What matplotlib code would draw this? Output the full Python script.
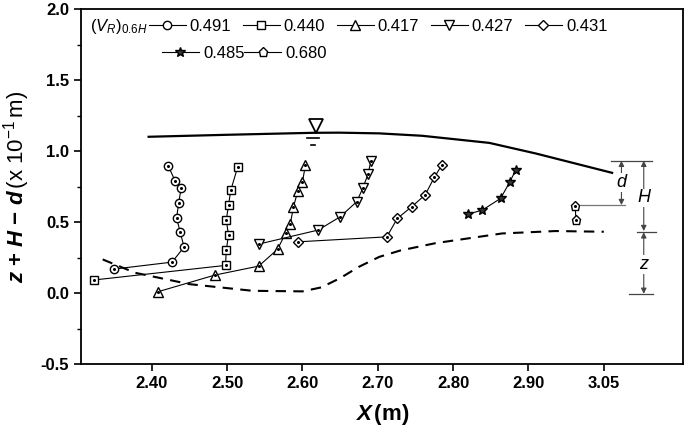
import numpy as np
import matplotlib.pyplot as plt

plt.rcParams['font.family'] = ['Liberation Sans Narrow', 'Liberation Sans', 'DejaVu Sans']
plt.rcParams['mathtext.fontset'] = 'custom'
plt.rcParams['mathtext.rm'] = 'Liberation Sans'
plt.rcParams['mathtext.it'] = 'Liberation Sans:italic'
plt.rcParams['mathtext.bf'] = 'Liberation Sans:bold'
plt.rcParams['mathtext.bfit'] = 'Liberation Sans:italic:bold'

# velocity profiles, (V_R)_0.6H label, x (m) and z+H-d (x 10^-1 m)
labels = ["0.491", "0.440", "0.417", "0.427", "0.431", "0.485", "0.680"]
markers = ["o", "s", "^", "v", "D", "*", "p"]

x_491 = [2.422, 2.431, 2.439, 2.436, 2.433, 2.438, 2.443, 2.427, 2.350]
y_491 = [0.896, 0.791, 0.739, 0.636, 0.530, 0.427, 0.324, 0.218, 0.169]

x_440 = [2.514, 2.505, 2.502, 2.499, 2.502, 2.499, 2.498, 2.323]
y_440 = [0.885, 0.725, 0.620, 0.514, 0.408, 0.303, 0.195, 0.092]

x_417 = [2.604, 2.600, 2.594, 2.588, 2.584, 2.578, 2.567, 2.542, 2.484, 2.408]
y_417 = [0.901, 0.780, 0.720, 0.604, 0.486, 0.425, 0.308, 0.190, 0.127, 0.009]

x_427 = [2.691, 2.687, 2.680, 2.672, 2.650, 2.621, 2.542]
y_427 = [0.932, 0.836, 0.737, 0.643, 0.537, 0.444, 0.345]

x_431 = [2.785, 2.775, 2.763, 2.745, 2.726, 2.712, 2.594]
y_431 = [0.901, 0.815, 0.692, 0.608, 0.526, 0.396, 0.361]

x_485 = [2.883, 2.875, 2.863, 2.839, 2.820]
y_485 = [0.866, 0.780, 0.667, 0.585, 0.556]

x_680 = [2.962, 2.963]
y_680 = [0.615, 0.514]

surf_x = [2.396, 2.500, 2.614, 2.649, 2.702, 2.759, 2.848, 2.910, 3.011]
surf_y = [1.101, 1.115, 1.129, 1.130, 1.125, 1.108, 1.058, 0.983, 0.847]

bed_x = [2.335, 2.378, 2.450, 2.534, 2.600, 2.625, 2.650, 2.675, 2.702, 2.730,
         2.777, 2.865, 2.936, 3.000]
bed_y = [0.237, 0.143, 0.063, 0.016, 0.012, 0.040, 0.105, 0.185, 0.255, 0.300,
         0.352, 0.420, 0.437, 0.432]

xticks = [2.4, 2.5, 2.6, 2.7, 2.8, 2.9, 3.0]
xticklabels = ["2.40", "2.50", "2.60", "2.70", "2.80", "2.90", "3.05"]
yticks = [-0.5, 0.0, 0.5, 1.0, 1.5, 2.0]

series = [(x_491, y_491), (x_440, y_440), (x_417, y_417), (x_427, y_427),
          (x_431, y_431), (x_485, y_485), (x_680, y_680)]
sizes = [6, 5.5, 7, 7, 5.5, 7.5, 6.5]

fig = plt.figure(figsize=(6.85, 4.36), dpi=100)
ax = fig.add_axes([0.118, 0.165, 0.879, 0.814])

handles = []
for (xs, ys), m, s, lab in zip(series, markers, sizes, labels):
    face = '#333333' if m == '*' else 'white'
    h, = ax.plot(xs, ys, '-', color='k', lw=0.8, marker=m, ms=s,
                 mfc=face, mec='k', mew=1.0, label=lab)
    if m != '*':
        ax.plot(xs, ys, 'o', ms=1.2, color='k', ls='none')
    handles.append(h)

ax.plot(surf_x, surf_y, '-', color='k', lw=1.6)
ax.plot(bed_x, bed_y, '--', color='k', lw=1.5, dashes=(5, 3.5))

# water level symbol
ax.plot([2.6179], [1.18], marker='v', ms=10, mfc='white', mec='k', mew=1.3)
ax.plot([2.606, 2.622], [1.090, 1.090], color='k', lw=1.2)
ax.plot([2.611, 2.617], [1.045, 1.045], color='k', lw=1.2)

# dimension lines for d, H, z
dim = '#444444'
ax.plot([3.010, 3.064], [0.932, 0.932], color=dim, lw=0.9)
ax.plot([2.969, 3.028], [0.620, 0.620], color='#777777', lw=0.9)
ax.plot([3.044, 3.069], [0.432, 0.432], color=dim, lw=0.9)
ax.plot([3.033, 3.065], [-0.005, -0.005], color=dim, lw=0.9)
arr = dict(arrowstyle='<|-|>', color=dim, lw=0.8, mutation_scale=8,
           shrinkA=0, shrinkB=0)
ax.annotate('', xy=(3.0234, 0.932), xytext=(3.0234, 0.620), arrowprops=arr)
ax.annotate('', xy=(3.053, 0.932), xytext=(3.053, 0.437), arrowprops=arr)
ax.annotate('', xy=(3.053, 0.428), xytext=(3.053, -0.005), arrowprops=arr)
box = dict(facecolor='white', edgecolor='none', pad=0.5)
ax.text(3.0234, 0.78, 'd', style='italic', fontsize=13, ha='center', va='center', bbox=box)
ax.text(3.053, 0.67, 'H', style='italic', fontsize=13, ha='center', va='center', bbox=box)
ax.text(3.053, 0.20, 'z', style='italic', fontsize=13, ha='center', va='center', bbox=box)

# legend in two rows
leg1 = ax.legend(handles[:5], labels[:5], ncol=5, loc='center left',
                 bbox_to_anchor=(0.113, 0.952), frameon=False, fontsize=12,
                 borderpad=0, borderaxespad=0, handlelength=2.2,
                 handletextpad=0.25, columnspacing=0.7)
ax.add_artist(leg1)
ax.legend(handles[5:], labels[5:], ncol=2, loc='center left',
          bbox_to_anchor=(0.135, 0.876), frameon=False, fontsize=12,
          borderpad=0, borderaxespad=0, handlelength=2.2,
          handletextpad=0.25, columnspacing=0.0)
ax.text(0.016, 0.952, r'$(\mathit{V_R})_{\mathit{0.6H}}$', transform=ax.transAxes,
        fontsize=12, va='center', ha='left')

ax.set_xlim(2.306, 3.105)
ax.set_ylim(-0.5, 2.0)
ax.set_xticks(xticks)
ax.set_xticklabels(xticklabels)
ax.set_yticks(yticks)
ax.set_yticklabels(["-0.5", "0.0", "0.5", "1.0", "1.5", "2.0"])
ax.set_yticks(np.arange(-0.25, 2.0, 0.5), minor=True)
ax.tick_params(axis='both', which='major', direction='out', length=5, width=1.2,
               labelsize=12)
ax.tick_params(axis='y', which='minor', direction='out', length=3, width=1.0)
for lab in ax.get_xticklabels() + ax.get_yticklabels():
    lab.set_fontweight('bold')
for sp in ax.spines.values():
    sp.set_linewidth(1.3)

ax.set_xlabel(r'$\mathbfit{X}\,\mathbf{(m)}$', fontsize=16, labelpad=8)
ax.set_ylabel(r'$\mathbfit{z}\ \mathbf{+}\ \mathbfit{H}\ \mathbf{-}\ \mathbfit{d}\,(\mathrm{x\ 10^{-1}\,m})$',
              fontsize=16, labelpad=6)

fig.savefig('out.png', dpi=100)
